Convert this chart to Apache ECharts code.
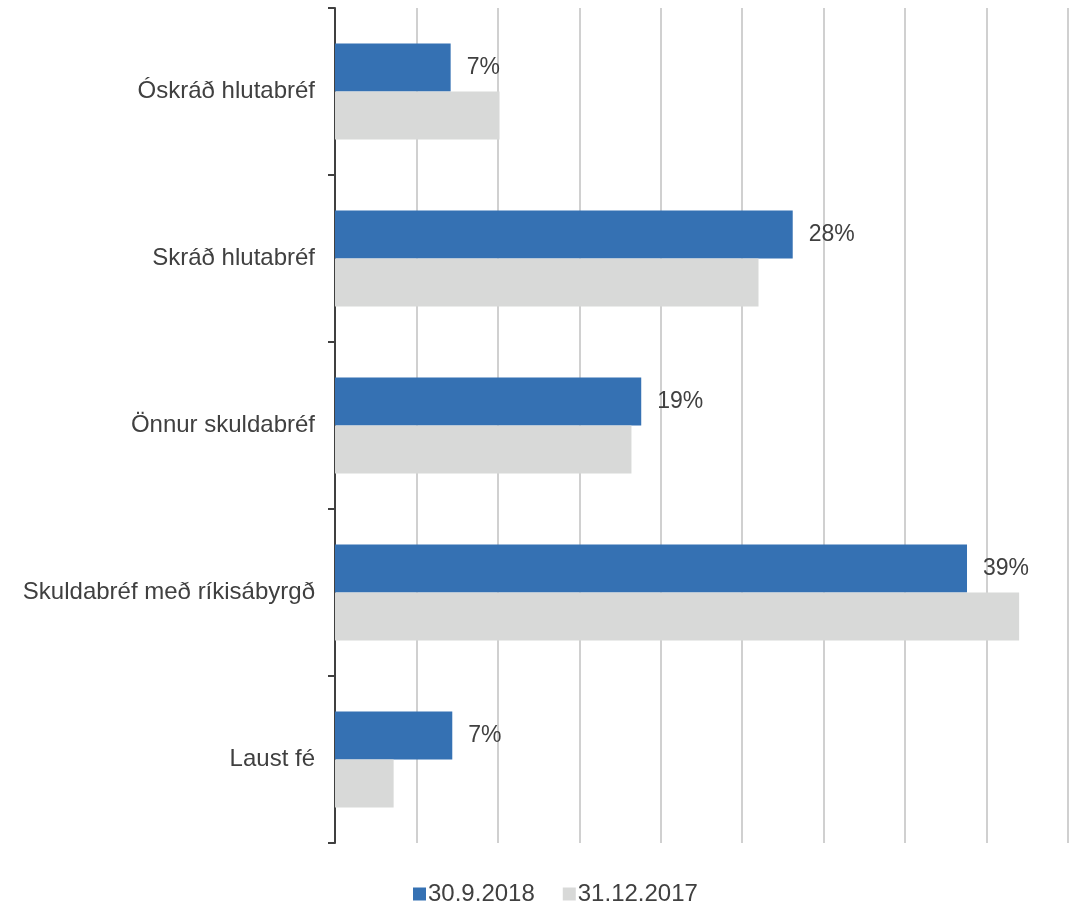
<!DOCTYPE html>
<html><head><meta charset="utf-8">
<script src="https://cdn.jsdelivr.net/npm/echarts@6/dist/echarts.min.js"></script>
<style>html,body{margin:0;padding:0;background:#fff}#c{width:1076px;height:905px}</style>
</head><body><div id="c"></div>
<script>
const categories = ['Óskráð hlutabréf', 'Skráð hlutabréf', 'Önnur skuldabréf', 'Skuldabréf með ríkisábyrgð', 'Laust fé'];
const seriesNames = ['30.9.2018', '31.12.2017'];
const values2018 = [7.1, 28.1, 18.8, 38.8, 7.2];
const values2017 = [10.1, 26.0, 18.2, 42.0, 3.6];
const xTicks = [0, 5, 10, 15, 20, 25, 30, 35, 40, 45];

const chart = echarts.init(document.getElementById('c'), null, {renderer: 'canvas'});
const font = 'Liberation Sans, Arial, sans-serif';
chart.setOption({
  animation: false,
  textStyle: {fontFamily: font},
  grid: {left: 335, right: 8, top: 8, bottom: 62, containLabel: false},
  legend: {
    bottom: -6, left: 408, itemWidth: 13, itemHeight: 13, itemGap: 28,
    icon: 'rect',
    textStyle: {fontSize: 24, color: '#404040', fontFamily: font, padding: [0, 0, 0, -3]},
    data: seriesNames
  },
  xAxis: {
    type: 'value', min: xTicks[0], max: xTicks[xTicks.length - 1], interval: 5,
    axisLabel: {show: false}, axisTick: {show: false}, axisLine: {show: false},
    splitLine: {show: true, lineStyle: {color: '#d0d0d0', width: 2}}
  },
  yAxis: {
    type: 'category', data: categories, inverse: true,
    axisLine: {show: true, lineStyle: {color: '#404040', width: 2}},
    axisTick: {show: true, length: 7, lineStyle: {color: '#404040', width: 2}},
    axisLabel: {fontSize: 24, color: '#404040', margin: 20, fontFamily: font}
  },
  series: [
    {
      name: seriesNames[0], type: 'bar', data: values2018, barGap: '0%', barCategoryGap: '42.5%',
      itemStyle: {color: '#3571b3'},
      label: {show: true, position: 'right', distance: 16, fontSize: 23, color: '#404040', fontFamily: font,
        formatter: p => Math.round(p.value) + '%'}
    },
    {
      name: seriesNames[1], type: 'bar', data: values2017, barGap: '0%', barCategoryGap: '42.5%',
      itemStyle: {color: '#d8d9d8'}
    }
  ]
});
</script></body></html>
